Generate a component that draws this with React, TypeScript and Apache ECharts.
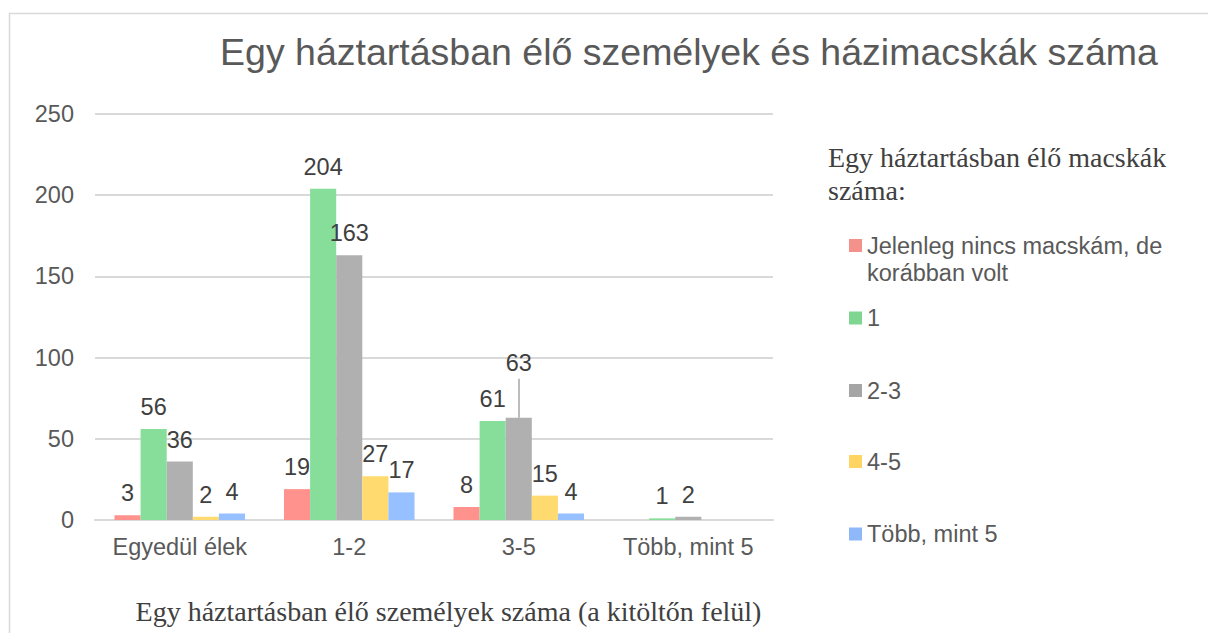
import React, { useEffect, useRef } from "react";
import * as echarts from "echarts";

const categories = ["Egyedül élek", "1-2", "3-5", "Több, mint 5"];
const seriesNames = ["Jelenleg nincs macskám, de korábban volt", "1", "2-3", "4-5", "Több, mint 5"];
const legendLabels = ["\nJelenleg nincs macskám, de\nkorábban volt", "1", "2-3", "4-5", "Több, mint 5"];
const noCatNow = [3, 19, 8, null];
const oneCat = [56, 204, 61, 1];
const twoThreeCats = [36, 163, 63, 2];
const fourFiveCats = [2, 27, 15, null];
const moreThanFive = [4, 17, 4, null];
const yTicks = { min: 0, max: 250, interval: 50 };
// label of the "63" bar is lifted; leader line reaches up to this value
const leaderCategoryIndex = 2;
const leaderTopValue = 87;

const titleText = "Egy háztartásban élő személyek és házimacskák száma";
const legendTitle = "Egy háztartásban élő macskák\nszáma:";
const xAxisName = "Egy háztartásban élő személyek száma (a kitöltőn felül)";

const barColors = ["#FF928C", "#87DE9A", "#B0B0B0", "#FFDA6E", "#96C0FF"];
const legendColors = ["#F4918A", "#7ED690", "#A5A5A5", "#FFD463", "#8FB8F8"];
const legendTops = [205, 304.5, 377, 448, 520.5];

const SANS = "'Liberation Sans', Arial, sans-serif";
const SERIF = "'Liberation Serif', 'Times New Roman', serif";

export default function App() {
  const ref = useRef<HTMLDivElement>(null);
  useEffect(() => {
    document.body.style.margin = "0";
    const chart = echarts.init(ref.current!, null, { renderer: "svg" });
    const allData = [noCatNow, oneCat, twoThreeCats, fourFiveCats, moreThanFive];
    const series = allData.map((arr, si) => {
      const s: any = {
        name: seriesNames[si],
        type: "bar",
        barGap: "0%",
        barCategoryGap: "23%",
        itemStyle: { color: barColors[si] },
        label: {
          show: true,
          position: "top",
          distance: 10,
          fontSize: 23.5,
          fontFamily: SANS,
          color: "#404040",
        },
        data: arr.map((v, di) => {
          if (si === 2 && di === leaderCategoryIndex) {
            return { value: v, label: { distance: 43 } };
          }
          return v;
        }),
      };
      if (si === 2) {
        s.markLine = {
          silent: true,
          symbol: "none",
          label: { show: false },
          lineStyle: { color: "#A6A6A6", width: 1.5, type: "solid" },
          data: [
            [
              { coord: [leaderCategoryIndex, twoThreeCats[leaderCategoryIndex]] },
              { coord: [leaderCategoryIndex, leaderTopValue] },
            ],
          ],
        };
      }
      return s;
    });
    const legends = seriesNames.map((n, i) => ({
      data: [n],
      orient: "vertical",
      left: 849,
      top: legendTops[i],
      padding: 0,
      icon: "rect",
      itemWidth: 13,
      itemHeight: 13,
      selectedMode: false,
      itemStyle: { color: legendColors[i] },
      formatter: () => legendLabels[i],
      textStyle: { fontSize: 23.5, fontFamily: SANS, color: "#595959", lineHeight: 27 },
    }));
    chart.setOption({
      animation: false,
      backgroundColor: "#ffffff",
      grid: { left: 95, right: 435, top: 114, bottom: 113, containLabel: false },
      legend: legends,
      xAxis: {
        type: "category",
        data: categories,
        axisTick: { show: false },
        axisLine: { lineStyle: { color: "#D9D9D9", width: 2 } },
        axisLabel: { interval: 0, fontSize: 23.5, fontFamily: SANS, color: "#595959", margin: 15 },
      },
      yAxis: {
        type: "value",
        min: yTicks.min,
        max: yTicks.max,
        interval: yTicks.interval,
        axisLine: { show: false },
        axisTick: { show: false },
        splitLine: { lineStyle: { color: "#D9D9D9", width: 2 } },
        axisLabel: { fontSize: 23.5, fontFamily: SANS, color: "#595959", margin: 21 },
      },
      graphic: [
        {
          type: "rect",
          z: -10,
          silent: true,
          shape: { x: 9.5, y: 13.5, width: 1400, height: 800 },
          style: { fill: "none", stroke: "#D9D9D9", lineWidth: 1.5 },
        },
        {
          type: "text",
          x: 689,
          y: 52,
          style: {
            text: titleText,
            align: "center",
            verticalAlign: "middle",
            fontSize: 37.5,
            fontFamily: SANS,
            fill: "#595959",
          },
        },
        {
          type: "text",
          x: 828,
          y: 140.5,
          style: {
            text: legendTitle,
            align: "left",
            verticalAlign: "top",
            fontSize: 28,
            lineHeight: 33,
            fontFamily: SERIF,
            fill: "#404040",
          },
        },
        {
          type: "text",
          x: 448.5,
          y: 611,
          style: {
            text: xAxisName,
            align: "center",
            verticalAlign: "middle",
            fontSize: 28,
            fontFamily: SERIF,
            fill: "#404040",
          },
        },
      ],
      series,
    });
    return () => chart.dispose();
  }, []);
  return <div ref={ref} style={{ width: 1208, height: 633 }} />;
}
